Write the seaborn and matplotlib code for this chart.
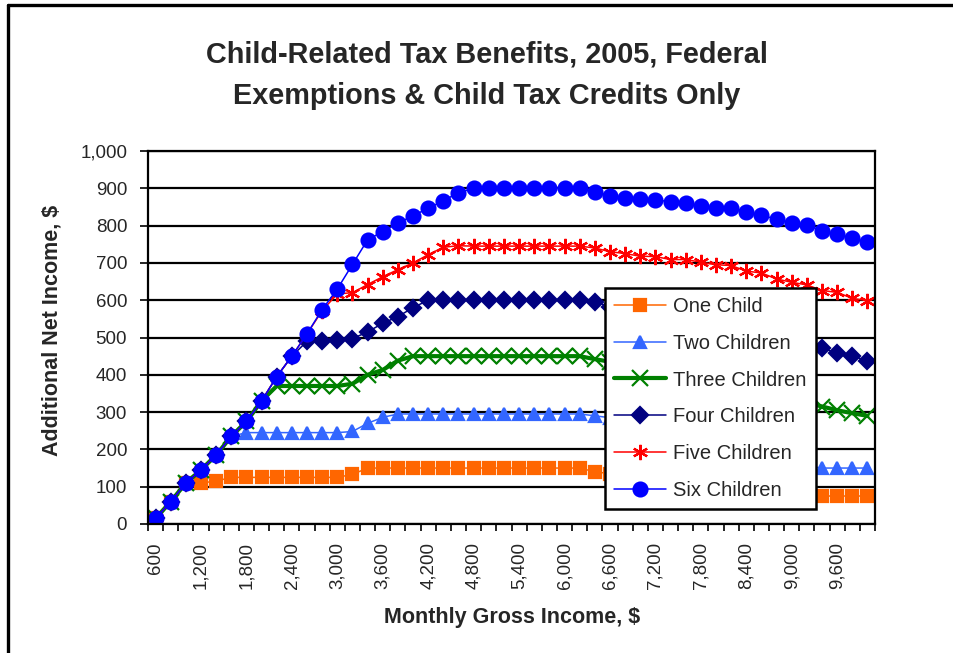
import numpy as np
import pandas as pd
import matplotlib
matplotlib.use("Agg")
import matplotlib.pyplot as plt
import seaborn as sns
from matplotlib.lines import Line2D
from matplotlib.ticker import FixedLocator, FuncFormatter

# 月收入类别 (600 ~ 10,000, 每档 200)
income = list(range(600, 10001, 200))

one_child = [15, 60, 110, 110, 115, 125, 125, 125, 125, 125,
             125, 125, 125, 133, 150, 150, 150, 150, 150, 150,
             150, 150, 150, 150, 150, 150, 150, 150, 150, 140,
             135, 130, 125, 120, 115, 110, 103, 97, 90, 83,
             77, 75, 75, 75, 75, 75, 75, 75]
two_children = [15, 60, 110, 145, 185, 235, 245, 245, 245, 245,
                245, 245, 245, 248, 270, 286, 295, 295, 295, 295,
                295, 295, 295, 295, 295, 295, 295, 295, 295, 290,
                285, 278, 270, 262, 255, 245, 235, 225, 212, 200,
                188, 175, 163, 155, 150, 150, 150, 150]
three_children = [15, 60, 110, 145, 185, 235, 275, 330, 370, 370,
                  370, 370, 370, 376, 400, 413, 438, 450, 450, 450,
                  450, 450, 450, 450, 450, 450, 450, 450, 450, 442,
                  435, 430, 425, 420, 412, 405, 398, 390, 380, 370,
                  360, 348, 337, 325, 315, 305, 297, 290]
four_children = [15, 60, 110, 145, 185, 235, 275, 330, 395, 450,
                 490, 490, 492, 497, 515, 538, 556, 580, 600, 600,
                 600, 600, 600, 600, 600, 600, 600, 600, 600, 595,
                 583, 580, 572, 570, 562, 562, 555, 548, 545, 530,
                 525, 508, 498, 488, 471, 459, 450, 438]
five_children = [15, 60, 110, 145, 185, 235, 275, 330, 395, 450,
                 510, 572, 617, 620, 642, 663, 682, 700, 722, 742,
                 746, 745, 745, 745, 745, 745, 745, 745, 745, 740,
                 730, 725, 718, 717, 709, 709, 702, 695, 693, 678,
                 673, 657, 648, 641, 626, 621, 605, 599]
six_children = [15, 60, 110, 145, 185, 235, 275, 330, 395, 450,
                510, 575, 630, 696, 762, 784, 806, 827, 846, 867,
                888, 900, 900, 900, 900, 900, 900, 900, 900, 891,
                880, 875, 870, 869, 864, 860, 853, 848, 848, 837,
                828, 817, 808, 802, 786, 777, 766, 755]

labels = ["One Child", "Two Children", "Three Children",
          "Four Children", "Five Children", "Six Children"]
values = [one_child, two_children, three_children,
          four_children, five_children, six_children]
colors = ["#FF6600", "#3366FF", "#008000", "#000080", "#FF0000", "#0000FF"]
markers = ["s", "^", "x", "D", (6, 2, 0), "o"]
msizes = [9, 9, 11, 8, 11, 10]
lwidths = [1.1, 1.1, 3.0, 1.1, 1.1, 1.1]

sns.set_style("white")
plt.rcParams['font.family'] = ['Liberation Sans', 'DejaVu Sans']

fig = plt.figure(figsize=(9.54, 6.53), dpi=100)
ax = fig.add_axes([148 / 954, 1 - 524 / 653, 727 / 954, 373 / 653])

for name, vals, c, m, ms, lw in zip(labels, values, colors, markers, msizes, lwidths):
    df = pd.DataFrame({"Income": income, "Net": vals})
    sns.lineplot(data=df, x="Income", y="Net", ax=ax, color=c, marker=m,
                 markersize=ms, linewidth=lw, markeredgecolor=c,
                 markerfacecolor=c, markeredgewidth=1.6, label=name)

# 坐标轴
ax.set_xlim(500, 10100)
ax.set_ylim(0, 1000)
ax.xaxis.set_major_locator(FixedLocator(list(range(600, 10000, 600))))
ax.xaxis.set_minor_locator(FixedLocator(list(range(500, 10101, 200))))
ax.xaxis.set_major_formatter(FuncFormatter(lambda v, p: f"{int(v):,}"))
ax.yaxis.set_major_locator(FixedLocator(list(range(0, 1001, 100))))
ax.yaxis.set_major_formatter(FuncFormatter(lambda v, p: f"{int(v):,}"))
ax.tick_params(axis="x", which="major", length=0, labelsize=13.5, rotation=90, pad=13)
ax.tick_params(axis="x", which="minor", length=5, width=1.2, color="black", direction="out", bottom=True)
ax.tick_params(axis="y", length=6, width=1.2, color="black", direction="out",
               labelsize=13.5, left=True, pad=9)
ax.set_xlabel("")
ax.set_ylabel("")
ax.yaxis.grid(True, color="black", linewidth=1.6)
ax.set_axisbelow(True)
for sp in ax.spines.values():
    sp.set_color("black")
    sp.set_linewidth(1.6)

leg = ax.legend(loc="upper left", bbox_to_anchor=(605 / 954, 1 - 288 / 653),
                bbox_transform=fig.transFigure, fontsize=14.5, frameon=True,
                fancybox=False, edgecolor="black", framealpha=1, numpoints=1,
                handlelength=2.6, handletextpad=0.35, borderpad=0.45,
                labelspacing=0.88, borderaxespad=0)
leg.get_frame().set_linewidth(1.8)

# 标题与轴标签
fig.text(487 / 954, 1 - 75 / 653,
         "Child-Related Tax Benefits, 2005, Federal\nExemptions & Child Tax Credits Only",
         ha="center", va="center", fontsize=20.8, fontweight="bold", linespacing=1.6)
fig.text(52 / 954, 1 - 330 / 653, "Additional Net Income, $", rotation=90,
         ha="center", va="center", fontsize=15.5, fontweight="bold")
fig.text(512 / 954, 1 - 618 / 653, "Monthly Gross Income, $",
         ha="center", va="center", fontsize=15.5, fontweight="bold")

# 外框 (上边与左边)
fig.add_artist(Line2D([8 / 954, 1], [1 - 5 / 653, 1 - 5 / 653], color="black", linewidth=2.4,
                      transform=fig.transFigure))
fig.add_artist(Line2D([8 / 954, 8 / 954], [0, 1 - 5 / 653], color="black", linewidth=2.4,
                      transform=fig.transFigure))

plt.savefig("out.png", dpi=100)
plt.close()
